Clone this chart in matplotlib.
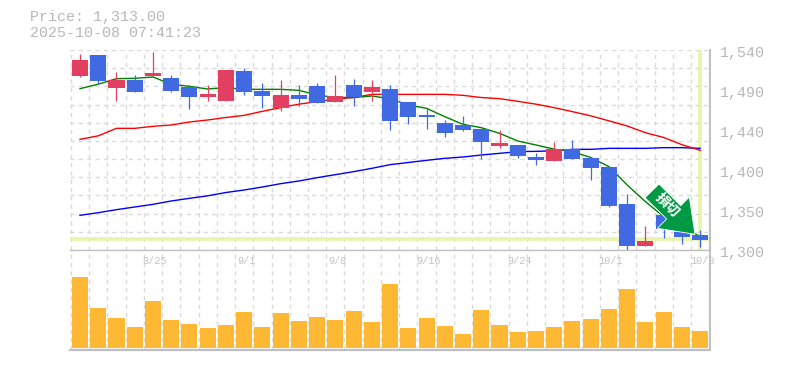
import matplotlib
matplotlib.use("Agg")
import matplotlib.pyplot as plt
from matplotlib.patches import Polygon
from matplotlib.transforms import Affine2D

price_label = "Price: 1,313.00"
time_label = "2025-10-08 07:41:23"
last_price = 1313.0

opens = [1508.8,1534,1494.4,1504,1508.8,1506.4,1495.6,1483.6,1478.8,1514.8,1490.8,1470.4,1486,1496.8,1477.6,1498,1489.6,1493.2,
         1477.6,1462,1452.4,1450,1445.2,1424.8,1426,1411.6,1406.8,1421.2,1410.4,1399.6,1355.2,1304.8,1342,1322,1317.6]
closes = [1528,1502.8,1504,1489.6,1512.4,1490.8,1483.6,1487.2,1516,1489.6,1484.8,1486,1481.2,1476.4,1484.8,1483.6,1495.6,1454.8,
          1459.6,1459.6,1440.4,1444,1429.6,1428.4,1412.8,1408,1421.2,1409.2,1398.8,1352.8,1304.8,1310.8,1325,1316,1312]
highs = [1535.2,1534,1513.6,1510,1537.6,1510,1498,1498,1516,1518.4,1500.4,1504,1498,1500.4,1510,1505.2,1504,1498,
         1477.6,1470.4,1456,1460.8,1445.2,1444,1426,1416.4,1429.6,1432,1410.4,1399.6,1367.2,1328.8,1342,1322,1324]
lows = [1507.6,1499.6,1478.8,1489.6,1508.8,1489.6,1469.2,1478.8,1478.8,1486,1470.4,1466.8,1472.8,1476.4,1477.6,1472.8,1478.8,1444,
        1451.2,1445.2,1435.6,1442.8,1409.2,1422.4,1410.4,1402,1406.8,1409.2,1384,1351.6,1300,1304.8,1314,1307,1303.6]
ma_short = [1493.6,1499,1505.6,1506,1507.6,1499,1496.4,1493.2,1495,1492.8,1492.8,1492.8,1491.6,1486,1483,1483,1484.8,1481.6,
            1474,1470,1460,1450.8,1446.8,1440,1430.8,1426,1421,1418,1411,1400,1378,1358,1340,1328,1316]
ma_mid = [1432.8,1437,1446,1446,1448.4,1450,1453.6,1456,1459,1461.6,1466.4,1470.8,1475,1478,1481,1483,1486.8,1486.8,
          1486.8,1486.8,1486.8,1485.6,1483,1481.6,1478.4,1475,1470.8,1466,1461,1455,1448.8,1440.8,1435,1426.4,1419.6]
ma_long = [1341.6,1344.8,1348.4,1351.6,1354.8,1358.8,1362,1365,1369,1372,1375.6,1379.6,1382.8,1386.8,1390.4,1394,1398,1402.4,
           1405,1407.6,1410,1411.6,1414,1416,1418,1418.4,1419,1420.8,1420.8,1422,1422,1422,1422.8,1422.8,1422]
volumes = [213,120,90,63,141,84,72,60,69,108,63,105,81,93,84,111,78,192,60,90,66,42,114,69,48,51,63,81,87,117,177,78,108,63,51]
date_labels = ["8/25","9/1","9/8","9/16","9/24","10/1","10/8"]
date_idx = [4,9,14,19,24,29,34]
price_ticks = [1540,1492,1444,1396,1348,1300]
price_tick_labels = ["1,540","1,490","1,440","1,400","1,350","1,300"]
signal_text = "損切"

W, H = 785, 370
RED, BLUE, GOLD = "#e24060", "#4169e1", "#ffb833"
GRID, TXT, BORDER, HL = "#dadada", "#b8b8b8", "#bfbfbf", "#e6f5a8"
MONO = ["Liberation Mono", "DejaVu Sans Mono"]

fig = plt.figure(figsize=(W/100, H/100), dpi=100, facecolor="white")
def make_axes(l, t, r, b):
    return fig.add_axes([l/W, 1-b/H, (r-l)/W, (b-t)/H])

ax = make_axes(70, 50, 710, 250)
av = make_axes(70, 250, 710, 350)
n = len(opens)
xs = list(range(n))
xlim = (-0.548, 34.54)

for a in (ax, av):
    a.set_xlim(*xlim)
    a.set_facecolor("none")
    for s in ("top", "left"):
        a.spines[s].set_visible(False)
    for s in ("bottom", "right"):
        a.spines[s].set_color(BORDER)
    a.tick_params(length=0)
    a.set_yticks([])
    a.set_xticks([])
    for k in range(n + 1):
        a.axvline(k - 0.5, color=GRID, lw=1.0, ls=(0, (3, 3)), zorder=1)
ax.spines["bottom"].set_linewidth(1.0)
ax.spines["right"].set_linewidth(1.4)
av.spines["bottom"].set_linewidth(1.6)
av.spines["right"].set_linewidth(1.4)

ax.set_ylim(1300, 1540)
for k in range(12):
    ax.axhline(1300 + k * 240 / 11, color=GRID, lw=1.0, ls=(0, (3, 3)), zorder=1)

ax.axhline(last_price, color=HL, lw=2.6, zorder=2)
ax.axvline(n - 1, color=HL, lw=2.6, zorder=2, ymin=0.01)

ax.plot(xs, ma_long, color="#0000ff", lw=1.0, zorder=3)
ax.plot(xs, ma_mid, color="#ff0000", lw=1.0, zorder=3)
ax.plot(xs, ma_short, color="#008000", lw=1.0, zorder=3)

for i in xs:
    c = RED if closes[i] > opens[i] else BLUE
    ax.vlines(i, lows[i], highs[i], color=c, lw=0.9, zorder=4)
    ax.bar(i, abs(closes[i] - opens[i]), bottom=min(opens[i], closes[i]), width=0.88, color=c, zorder=5)

av.set_ylim(-6, 294)
av.bar(xs, volumes, width=0.88, color=GOLD, zorder=3)

for i, lab in zip(date_idx, date_labels):
    av.annotate(lab, xy=(i, 1), xycoords=("data", "axes fraction"), xytext=(2, -11), textcoords="offset pixels",
                ha="center", va="center", color="#c4c4c4", fontsize=7.4, family=MONO, annotation_clip=False)

for v, lab in zip(price_ticks, price_tick_labels):
    ax.annotate(lab, xy=(1, v), xycoords=("axes fraction", "data"), xytext=(10, -3), textcoords="offset pixels",
                ha="left", va="center", color=TXT, fontsize=10.8, family=MONO, annotation_clip=False)

fig.text(30/W, 1-17.5/H, price_label, color=TXT, fontsize=10.8, family=MONO, va="center")
fig.text(30/W, 1-33/H, time_label, color=TXT, fontsize=10.8, family=MONO, va="center")

# signal arrow, placed in figure pixels (y measured from the top)
to_fig = Affine2D().scale(1/W, -1/H).translate(0, 1) + fig.transFigure
arrow = [(659,184),(680.7,205.7),(689.3,197),(695,234.3),(657.3,228.3),(666.7,219),(645,197.7)]
fig.add_artist(Polygon(arrow, closed=True, facecolor="#009944", edgecolor="white", lw=0.6, transform=to_fig, zorder=10))
fig.text(667/W, 1-205.5/H, signal_text, color="white", fontsize=10, rotation=-45, rotation_mode="anchor",
         ha="center", va="center", family=["Noto Sans CJK JP", "DejaVu Sans"], weight="bold", zorder=11)

fig.savefig("out.png", dpi=100)
